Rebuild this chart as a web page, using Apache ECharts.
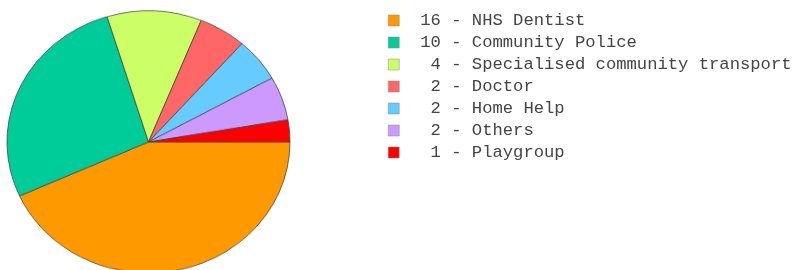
<!DOCTYPE html>
<html>
<head>
<meta charset="utf-8">
<script src="https://cdn.jsdelivr.net/npm/echarts@6/dist/echarts.min.js"></script>
<style>
  html, body { margin: 0; padding: 0; background: #fff; overflow: hidden; }
  #pie { position: absolute; left: 0; top: 0; width: 300px; height: 310px;
         transform: scaleY(0.926); transform-origin: 0 0; }
  #legend { position: absolute; left: 0; top: 0; width: 797px; height: 270px; }
</style>
</head>
<body>
<div id="legend"></div>
<div id="pie"></div>
<script>
var categories = ['NHS Dentist', 'Community Police', 'Specialised community transport',
    'Doctor', 'Home Help', 'Others', 'Playgroup'];
var values = [16, 10, 4, 2, 2, 2, 1];
var colors = ['#ff9900', '#00cc99', '#ccff66', '#ff6666', '#66ccff', '#cc99ff', '#ff0000'];

var data = categories.map(function (c, i) {
    return { name: c, value: values[i] };
});

// pie drawn in its own box, squashed a little to match the oval shape
var pieChart = echarts.init(document.getElementById('pie'));
pieChart.setOption({
    animation: false,
    color: colors,
    series: [{
        type: 'pie',
        center: [148.5, 153.3],
        radius: [0, 141.5],
        startAngle: 0,
        clockwise: true,
        label: { show: false },
        labelLine: { show: false },
        emphasis: { disabled: true },
        itemStyle: { borderColor: '#444', borderWidth: 0.8 },
        data: data
    }]
});

// legend only (hidden pie so the legend gets the same names/colours)
var legendChart = echarts.init(document.getElementById('legend'));
legendChart.setOption({
    animation: false,
    color: colors,
    legend: {
        orient: 'vertical',
        left: 388,
        top: 12,
        padding: 0,
        itemWidth: 11,
        itemHeight: 11,
        itemGap: 5,
        icon: 'rect',
        selectedMode: false,
        itemStyle: { borderColor: '#888', borderWidth: 0.5 },
        textStyle: {
            fontFamily: 'Liberation Mono',
            fontSize: 17.2,
            color: '#444',
            padding: [0, 0, 0, 16]
        },
        formatter: function (name) {
            var v = values[categories.indexOf(name)];
            var s = String(v);
            if (s.length < 2) s = ' ' + s;
            return s + ' - ' + name;
        },
        data: categories
    },
    series: [{
        type: 'pie',
        radius: 0,
        center: [-100, -100],
        label: { show: false },
        silent: true,
        data: data
    }]
});
</script>
</body>
</html>
